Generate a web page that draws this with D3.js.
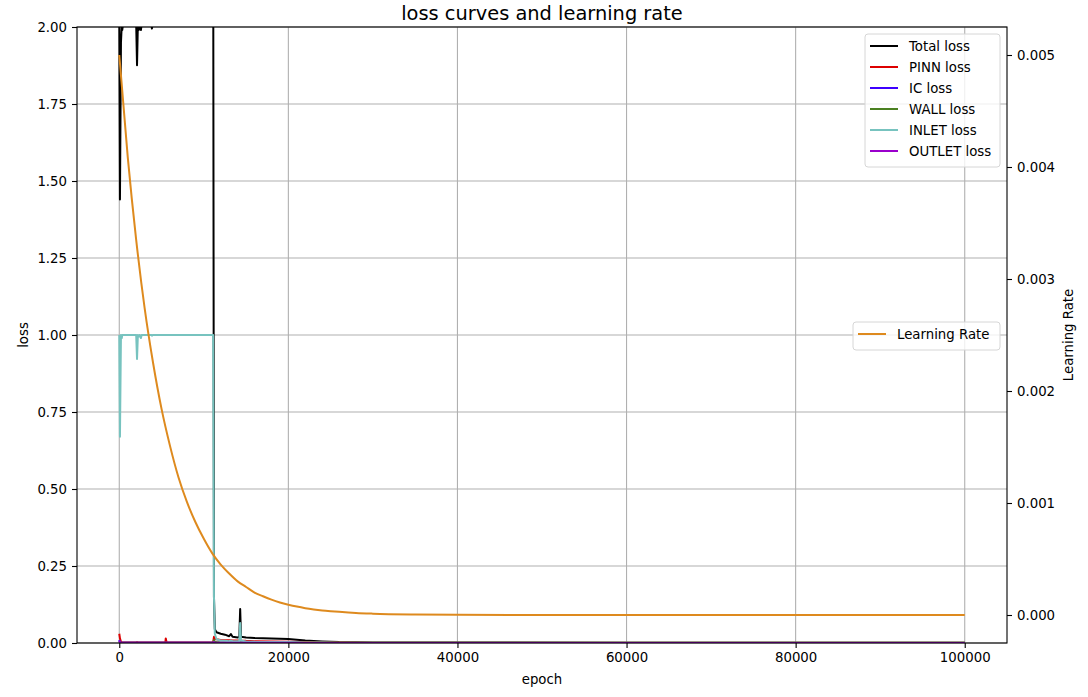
<!DOCTYPE html>
<html>
<head>
<meta charset="utf-8">
<script src="https://cdn.jsdelivr.net/npm/d3@7"></script>
<style>
  body { margin: 0; background: #fff; }
  svg { font-family: "DejaVu Sans", sans-serif; }
</style>
</head>
<body>
<div id="chart"></div>
<script>
// loss curves, values
const lossEpochs = [0, 80, 200, 300, 350, 450, 1000, 2000, 2100, 2200, 2300, 2400, 2560, 2650, 3800, 3860, 3950, 5000, 5450, 5500, 5600, 8000, 10000, 11000, 11100, 11200, 11300, 11500, 12000, 12500, 13000, 13200, 13400, 14000, 14200, 14300, 14400, 15000, 16000, 18000, 20000, 22000, 24000, 26000, 30000, 40000, 60000, 80000, 100000];
const totalLoss = [2.02, 1.44, 1.95, 2.01, 1.99, 2.01, 2.01, 2.01, 1.876, 2.01, 1.99, 2.01, 1.99, 2.01, 2.01, 1.995, 2.01, 2.01, 2.01, 2.02, 2.01, 2.01, 2.01, 2.02, 2.5, 0.15, 0.045, 0.035, 0.03, 0.027, 0.022, 0.029, 0.02, 0.018, 0.02, 0.11, 0.02, 0.018, 0.016, 0.015, 0.013, 0.008, 0.005, 0.003, 0.002, 0.0015, 0.0012, 0.0011, 0.001];
const pinnLoss = [0.03, 0.015, 0.004, 0.002, 0.002, 0.002, 0.002, 0.002, 0.003, 0.002, 0.002, 0.002, 0.002, 0.002, 0.002, 0.002, 0.002, 0.002, 0.002, 0.015, 0.002, 0.002, 0.002, 0.002, 0.002, 0.02, 0.014, 0.012, 0.01, 0.009, 0.009, 0.009, 0.008, 0.008, 0.008, 0.01, 0.008, 0.007, 0.006, 0.005, 0.004, 0.003, 0.002, 0.0015, 0.001, 0.0008, 0.0006, 0.0005, 0.0005];
const icLoss = [0.01, 0.002, 0.001, 0.0005, 0.0005, 0.0005, 0.0005, 0.0005, 0.0005, 0.0005, 0.0005, 0.0005, 0.0005, 0.0005, 0.0005, 0.0005, 0.0005, 0.0005, 0.0005, 0.0005, 0.0005, 0.0005, 0.0005, 0.0005, 0.0005, 0.004, 0.002, 0.001, 0.001, 0.001, 0.001, 0.001, 0.001, 0.001, 0.001, 0.001, 0.001, 0.001, 0.0008, 0.0006, 0.0005, 0.0004, 0.0003, 0.0003, 0.0003, 0.0003, 0.0003, 0.0003, 0.0003];
const wallLoss = [0.005, 0.002, 0.001, 0.001, 0.001, 0.001, 0.001, 0.001, 0.001, 0.001, 0.001, 0.001, 0.001, 0.001, 0.001, 0.001, 0.001, 0.001, 0.001, 0.001, 0.001, 0.001, 0.001, 0.001, 0.001, 0.01, 0.004, 0.003, 0.002, 0.002, 0.002, 0.002, 0.002, 0.002, 0.002, 0.003, 0.002, 0.002, 0.0015, 0.001, 0.001, 0.0008, 0.0006, 0.0005, 0.0005, 0.0005, 0.0005, 0.0005, 0.0005];
const inletLoss = [1.0, 0.67, 1.0, 0.99, 1.0, 1.0, 1.0, 1.0, 0.922, 1.0, 0.995, 1.0, 0.99, 1.0, 1.0, 0.998, 1.0, 1.0, 1.0, 1.0, 1.0, 1.0, 1.0, 1.0, 1.0, 0.15, 0.03, 0.012, 0.008, 0.007, 0.006, 0.008, 0.006, 0.006, 0.006, 0.065, 0.008, 0.005, 0.004, 0.0035, 0.003, 0.002, 0.0015, 0.0012, 0.001, 0.0008, 0.0006, 0.0005, 0.0005];
const outletLoss = [0.008, 0.002, 0.001, 0.0005, 0.0005, 0.0005, 0.0005, 0.0005, 0.0005, 0.0005, 0.0005, 0.0005, 0.0005, 0.0005, 0.0005, 0.0005, 0.0005, 0.0005, 0.0005, 0.0005, 0.0005, 0.0005, 0.0005, 0.0005, 0.0005, 0.003, 0.001, 0.001, 0.001, 0.001, 0.001, 0.001, 0.001, 0.001, 0.001, 0.001, 0.001, 0.001, 0.0008, 0.0006, 0.0005, 0.0004, 0.0003, 0.0003, 0.0003, 0.0003, 0.0003, 0.0003, 0.0003];

// learning rate curve
const lrEpochs = [0, 1000, 2000, 3000, 4000, 5000, 6000, 7000, 8000, 9000, 10000, 11000, 12000, 13000, 14000, 15000, 16000, 17000, 18000, 19000, 20000, 21000, 22000, 23000, 24000, 25000, 26000, 28000, 30000, 35000, 40000, 50000, 60000, 80000, 100000];
const lrValues = [0.00500, 0.00409, 0.00335, 0.00274, 0.00225, 0.00184, 0.00151, 0.00123, 0.00101, 0.00083, 0.00068, 0.00055, 0.00045, 0.00037, 0.00030, 0.00025, 0.00020, 0.000167, 0.000137, 0.000112, 0.000092, 0.000075, 0.000061, 0.000050, 0.000041, 0.000034, 0.000028, 0.000018, 0.000012, 0.0000046, 0.0000017, 0.0000003, 0.0000001, 0.0000001, 0.0000001];

const xTicks = [0, 20000, 40000, 60000, 80000, 100000];
const yTicks = [0, 0.25, 0.5, 0.75, 1.0, 1.25, 1.5, 1.75, 2.0];
const lrTicks = [0, 0.001, 0.002, 0.003, 0.004, 0.005];

const series = [
  { name: "Total loss", values: totalLoss, color: "#000000" },
  { name: "PINN loss", values: pinnLoss, color: "#dd0000" },
  { name: "IC loss", values: icLoss, color: "#3d00ff" },
  { name: "WALL loss", values: wallLoss, color: "#4b8021" },
  { name: "INLET loss", values: inletLoss, color: "#77c3bf" },
  { name: "OUTLET loss", values: outletLoss, color: "#9a00cc" },
];
const lrColor = "#de8a1e";

const width = 1088, height = 697;
const margin = { top: 27, right: 81, bottom: 54, left: 77 };
const plotW = width - margin.left - margin.right;
const plotH = height - margin.top - margin.bottom;

const svg = d3.select("#chart").append("svg")
  .attr("width", width)
  .attr("height", height);

const x = d3.scaleLinear()
  .domain([-5000, 105000])
  .range([margin.left, margin.left + plotW]);

const y = d3.scaleLinear()
  .domain([0, 2])
  .range([margin.top + plotH, margin.top]);

const y2 = d3.scaleLinear()
  .domain([-0.00025, 0.00525])
  .range([margin.top + plotH, margin.top]);

svg.append("defs").append("clipPath").attr("id", "plot-clip")
  .append("rect")
  .attr("x", margin.left).attr("y", margin.top)
  .attr("width", plotW).attr("height", plotH);

// grid
const grid = svg.append("g").attr("class", "grid");
grid.selectAll(".gx").data(xTicks).enter().append("line")
  .attr("x1", (d) => x(d)).attr("x2", (d) => x(d))
  .attr("y1", margin.top).attr("y2", margin.top + plotH)
  .attr("stroke", "#b0b0b0").attr("stroke-width", 1.1);
grid.selectAll(".gy").data(yTicks).enter().append("line")
  .attr("x1", margin.left).attr("x2", margin.left + plotW)
  .attr("y1", (d) => y(d)).attr("y2", (d) => y(d))
  .attr("stroke", "#b0b0b0").attr("stroke-width", 1.1);

const lines = svg.append("g").attr("clip-path", "url(#plot-clip)");

const lossLine = d3.line()
  .x((d, i) => x(lossEpochs[i]))
  .y((d) => y(d));

series.forEach((s) => {
  lines.append("path")
    .datum(s.values)
    .attr("fill", "none")
    .attr("stroke", s.color)
    .attr("stroke-width", 2)
    .attr("stroke-linejoin", "round")
    .attr("d", lossLine);
});

const lrLine = d3.line()
  .x((d, i) => x(lrEpochs[i]))
  .y((d) => y2(d))
  .curve(d3.curveMonotoneX);

lines.append("path")
  .datum(lrValues)
  .attr("fill", "none")
  .attr("stroke", lrColor)
  .attr("stroke-width", 2)
  .attr("d", lrLine);

// axes
const fontSize = "13.3px";
const xAxis = svg.append("g")
  .attr("transform", `translate(0,${margin.top + plotH})`)
  .call(d3.axisBottom(x).tickValues(xTicks).tickFormat(d3.format("d")).tickSize(5).tickPadding(5));

const yAxis = svg.append("g")
  .attr("transform", `translate(${margin.left},0)`)
  .call(d3.axisLeft(y).tickValues(yTicks).tickFormat(d3.format(".2f")).tickSize(5).tickPadding(5));

const y2Axis = svg.append("g")
  .attr("transform", `translate(${margin.left + plotW},0)`)
  .call(d3.axisRight(y2).tickValues(lrTicks).tickFormat(d3.format(".3f")).tickSize(5).tickPadding(5));

[xAxis, yAxis, y2Axis].forEach((g) => {
  g.select(".domain").remove();
  g.selectAll(".tick line").attr("stroke", "#000").attr("stroke-width", 1.1);
  g.selectAll(".tick text").attr("fill", "#000")
    .style("font-size", fontSize)
    .style("font-family", "DejaVu Sans");
});

// frame
svg.append("rect")
  .attr("x", margin.left).attr("y", margin.top)
  .attr("width", plotW).attr("height", plotH)
  .attr("fill", "none").attr("stroke", "#000").attr("stroke-width", 1.1);

// labels
svg.append("text")
  .attr("x", margin.left + plotW / 2).attr("y", 20)
  .attr("text-anchor", "middle")
  .style("font-size", "19.4px")
  .text("loss curves and learning rate");

svg.append("text")
  .attr("x", margin.left + plotW / 2).attr("y", 684)
  .attr("text-anchor", "middle")
  .style("font-size", fontSize)
  .text("epoch");

svg.append("text")
  .attr("transform", `translate(28,${margin.top + plotH / 2}) rotate(-90)`)
  .attr("text-anchor", "middle")
  .style("font-size", fontSize)
  .text("loss");

svg.append("text")
  .attr("transform", `translate(1073,${margin.top + plotH / 2}) rotate(-90)`)
  .attr("text-anchor", "middle")
  .style("font-size", fontSize)
  .text("Learning Rate");

// legends
function drawLegend(items, bx, by, bw) {
  const rowH = 21;
  const g = svg.append("g");
  g.append("rect")
    .attr("x", bx).attr("y", by)
    .attr("width", bw).attr("height", items.length * rowH + 7)
    .attr("rx", 3)
    .attr("fill", "rgba(255,255,255,0.8)")
    .attr("stroke", "#d6d6d6");
  items.forEach((it, i) => {
    const cy = by + 12 + i * rowH;
    g.append("line")
      .attr("x1", bx + 5).attr("x2", bx + 33)
      .attr("y1", cy).attr("y2", cy)
      .attr("stroke", it.color).attr("stroke-width", 2);
    g.append("text")
      .attr("x", bx + 44).attr("y", cy + 5)
      .style("font-size", fontSize)
      .text(it.name);
  });
}

drawLegend(series, 865, 34, 135);
drawLegend([{ name: "Learning Rate", color: lrColor }], 853, 322, 147);
</script>
</body>
</html>
